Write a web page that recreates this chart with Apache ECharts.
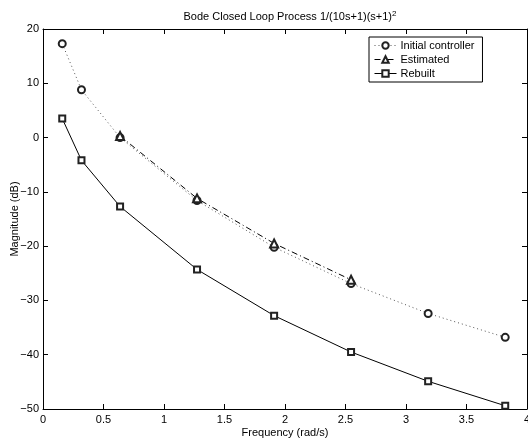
<!DOCTYPE html>
<html>
<head>
<meta charset="utf-8">
<script src="https://cdn.jsdelivr.net/npm/echarts@6/dist/echarts.min.js"></script>
<style>
    html, body { margin: 0; padding: 0; background: #fff; }
    #chart { width: 528px; height: 439px; }
</style>
</head>
<body>
<div id="chart"></div>
<script>
    // frequencies (rad/s) of the sample points
    var freq = [0.159, 0.318, 0.637, 1.273, 1.910, 2.546, 3.183, 3.820];
    var initialMag = [17.3, 8.8, 0.0, -11.6, -20.2, -26.9, -32.4, -36.8];
    var estimatedFreq = [0.637, 1.273, 1.910, 2.546];
    var estimatedMag = [0.3, -11.2, -19.5, -26.2];
    var rebuiltMag = [3.5, -4.2, -12.7, -24.3, -32.8, -39.5, -44.9, -49.4];

    function pairs(xs, ys) {
        return xs.map(function (x, i) { return [x, ys[i]]; });
    }

    var font = 'Liberation Sans, Arial, Helvetica, sans-serif';
    var minus = function (v) { return String(v).replace('-', '\u2212'); };

    var baseX = {
        type: 'value', min: 0, max: 4, interval: 0.5,
        axisLine: { show: true, onZero: false, lineStyle: { color: '#000', width: 1 } },
        axisTick: { show: true, inside: true, length: 5, lineStyle: { color: '#000' } },
        splitLine: { show: false }
    };
    var baseY = {
        type: 'value', min: -50, max: 20, interval: 10,
        axisLine: { show: true, onZero: false, lineStyle: { color: '#000', width: 1 } },
        axisTick: { show: true, inside: true, length: 5, lineStyle: { color: '#000' } },
        splitLine: { show: false }
    };

    var myChart = echarts.init(document.getElementById('chart'));
    var options = {
        backgroundColor: '#fff',
        animation: false,
        textStyle: { fontFamily: font },
        title: {
            text: 'Bode Closed Loop Process 1/(10s+1)(s+1){sup|2}',
            left: 285,
            textAlign: 'center',
            top: 5,
            textStyle: {
                fontSize: 11, fontWeight: 'normal', color: '#000', fontFamily: font,
                rich: { sup: { fontSize: 8, verticalAlign: 'top', padding: [0, 0, 6, 0], color: '#000', fontFamily: font } }
            }
        },
        grid: { left: 43, right: 1, top: 29, bottom: 30, containLabel: false, outerBoundsMode: 'none' },
        legend: {
            orient: 'vertical',
            left: 369,
            top: 37,
            backgroundColor: '#fff',
            borderColor: '#000',
            borderWidth: 1,
            borderRadius: 0,
            padding: [3, 8, 3, 5],
            itemGap: 3,
            itemWidth: 22,
            itemHeight: 8,
            itemStyle: { borderWidth: 0.8 },
            lineStyle: { width: 1 },
            textStyle: { fontSize: 11, color: '#000', fontFamily: font, padding: [0, 0, 0, -1] },
            data: ['Initial controller', 'Estimated', 'Rebuilt']
        },
        xAxis: [
            Object.assign({}, baseX, {
                position: 'bottom',
                name: 'Frequency (rad/s)',
                nameLocation: 'middle',
                nameGap: 18,
                nameMoveOverlap: false,
                nameTextStyle: { fontSize: 11, color: '#000', fontFamily: font },
                axisLabel: { show: true, fontSize: 11, color: '#000', margin: 5, fontFamily: font,
                    showMaxLabel: true, showMinLabel: true }
            }),
            Object.assign({}, baseX, { position: 'top', axisLabel: { show: false } })
        ],
        yAxis: [
            Object.assign({}, baseY, {
                position: 'left',
                name: 'Magnitude (dB)',
                nameLocation: 'middle',
                nameGap: 23,
                nameMoveOverlap: false,
                nameTextStyle: { fontSize: 11, color: '#000', fontFamily: font },
                axisLabel: { show: true, fontSize: 11, color: '#000', margin: 4, fontFamily: font, formatter: minus }
            }),
            Object.assign({}, baseY, { position: 'right', axisLabel: { show: false } })
        ],
        series: [
            {
                name: 'Initial controller',
                type: 'line',
                data: pairs(freq, initialMag),
                symbol: 'emptyCircle',
                symbolSize: 7,
                itemStyle: { color: '#222', borderColor: '#222', borderWidth: 0.8 },
                lineStyle: { color: '#555', width: 1, type: [1, 3] }
            },
            {
                name: 'Estimated',
                type: 'line',
                data: pairs(estimatedFreq, estimatedMag),
                symbol: 'emptyTriangle',
                symbolSize: 8,
                itemStyle: { color: '#222', borderColor: '#222', borderWidth: 0.8 },
                lineStyle: { color: '#000', width: 1, type: [6, 3, 1, 3] }
            },
            {
                name: 'Rebuilt',
                type: 'line',
                data: pairs(freq, rebuiltMag),
                symbol: 'emptyRect',
                symbolSize: 6,
                itemStyle: { color: '#222', borderColor: '#222', borderWidth: 0.8 },
                lineStyle: { color: '#000', width: 1, type: 'solid' }
            }
        ]
    };
    myChart.setOption(options);
    window.addEventListener('resize', myChart.resize);
</script>
</body>
</html>
